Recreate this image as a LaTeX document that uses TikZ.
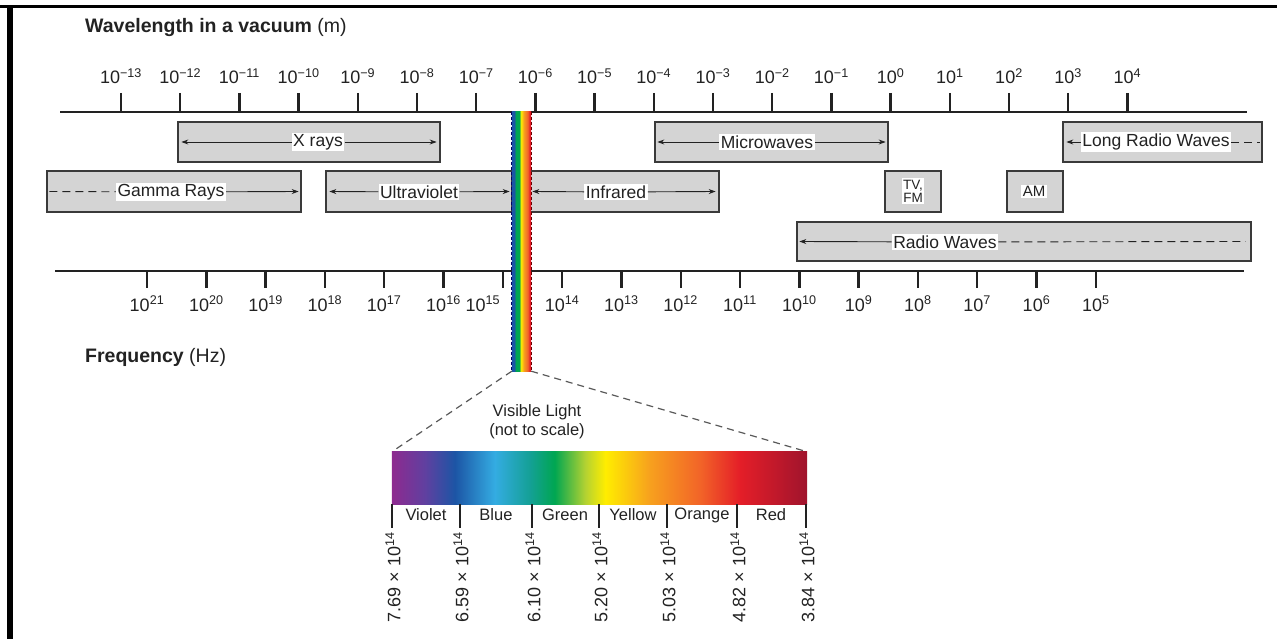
\documentclass[tikz,border=0pt]{standalone}
\usepackage{fontspec}
\setmainfont{Liberation Sans}
\usetikzlibrary{arrows.meta}

% Colores
\definecolor{tinta}{HTML}{222222}
\definecolor{grisbanda}{HTML}{D4D4D4}
\definecolor{borde}{HTML}{3A3A3A}
\definecolor{esp1}{RGB}{142,42,143}
\definecolor{esp2}{RGB}{96,64,160}
\definecolor{esp3}{RGB}{28,85,165}
\definecolor{esp4}{RGB}{52,172,226}
\definecolor{esp5}{RGB}{20,160,150}
\definecolor{esp6}{RGB}{0,166,81}
\definecolor{esp7}{RGB}{180,210,50}
\definecolor{esp8}{RGB}{255,237,0}
\definecolor{esp9}{RGB}{247,160,30}
\definecolor{esp10}{RGB}{242,100,40}
\definecolor{esp11}{RGB}{228,30,40}
\definecolor{esp12}{RGB}{160,20,45}

% Degradado del espectro visible (barra grande y franja)
\pgfdeclarehorizontalshading{espectro}{100bp}{color(0bp)=(esp1); color(25bp)=(esp1);
  color(29bp)=(esp2); color(32.6bp)=(esp3); color(37.4bp)=(esp4); color(41.6bp)=(esp5);
  color(44.6bp)=(esp6); color(48.3bp)=(esp7); color(50.7bp)=(esp8); color(56.1bp)=(esp9);
  color(62.1bp)=(esp10); color(66.9bp)=(esp11); color(75bp)=(esp12); color(100bp)=(esp12)}
\pgfdeclarehorizontalshading{franjacolor}{100bp}{color(0bp)=(esp3); color(25bp)=(esp3);
  color(31bp)=(esp3); color(36bp)=(esp6); color(44bp)=(esp6); color(49bp)=(esp8);
  color(56bp)=(esp9); color(66bp)=(esp10); color(71bp)=(esp11); color(75bp)=(esp11); color(100bp)=(esp11)}

\newcommand{\pot}[1]{10\textsuperscript{#1}}

\tikzset{
  eje/.style={draw=tinta, line width=2.4},
  banda/.style={draw=borde, line width=1.3, fill=grisbanda, inner sep=0},
  etq/.style={fill=white, inner sep=1.5, font=\fontsize{17.5}{19}\selectfont},
  escala/.style={anchor=base, inner sep=0, font=\fontsize{18}{20}\selectfont},
  flecha/.style={draw=tinta, line width=0.9, -{Stealth[length=7,width=5]}},
  discont/.style={draw=tinta, line width=0.9, dash pattern=on 8 off 5},
  zoomlinea/.style={draw=black!65, line width=1.2, dash pattern=on 7 off 5}
}

\begin{document}
\begin{tikzpicture}[x=1pt, y=-1pt, every node/.style={text=tinta}]
        \useasboundingbox (0,0) rectangle (1277,639);

        % Marco negro
        \fill[black] (0,5) rectangle (1277,8.5);
        \fill[black] (7,5) rectangle (13,639);

        % Titulos
        \node[anchor=base west, inner sep=0, font=\fontsize{19.5}{21}\selectfont] (titulo) at (85,33)
            {\textbf{Wavelength in a vacuum} (m)};
        \node[anchor=base west, inner sep=0, font=\fontsize{19.5}{21}\selectfont] (frecuencia) at (85,362)
            {\textbf{Frequency} (Hz)};

        % Eje de longitud de onda
        \draw[eje] (60,112) -- (1247,112);
        \foreach \e [count=\i from 0] in {−13,−12,−11,−10,−9,−8,−7,−6,−5,−4,−3,−2,−1,0,1,2,3,4} {
            \draw[eje] (121+59.2*\i,93) -- (121+59.2*\i,112);
            \node[escala] (lo\i) at (121+59.2*\i,84) {\pot{\e}};
        }

        % Eje de frecuencia
        \draw[eje] (55,271) -- (1244,271);
        \foreach \e [count=\i from 0] in {21,20,...,5} {
            \pgfmathsetmacro{\dx}{ifthenelse(\e==15,-20,0)}
            \draw[eje] (147+59.3*\i,271) -- (147+59.3*\i,288);
            \node[escala] (fr\i) at (147+59.3*\i+\dx,311) {\pot{\e}};
        }

        % Bandas, fila 1
        \node[banda, minimum width=262, minimum height=40] (xrays) at (309,142) {};
        \node[banda, minimum width=233, minimum height=40] (micro) at (771.5,142) {};
        \node[banda, minimum width=199, minimum height=40] (largas) at (1162.5,142) {};
        % Bandas, fila 2
        \node[banda, minimum width=254, minimum height=41] (gamma) at (174,191.5) {};
        \node[banda, minimum width=186, minimum height=41] (uv) at (419,191.5) {};
        \node[banda, minimum width=189, minimum height=41] (ir) at (624.5,191.5) {};
        \node[banda, minimum width=56, minimum height=41] (tvfm) at (913,191.5) {};
        \node[banda, minimum width=56, minimum height=41] (am) at (1035,191.5) {};
        % Bandas, fila 3
        \node[banda, minimum width=454, minimum height=39] (radio) at (1024,241.5) {};

        % Etiquetas y flechas de las bandas
        \node[etq] (xraysl) at (318,142) {X rays};
        \draw[flecha] (xraysl) -- ([xshift=4]xrays.west);
        \draw[flecha] (xraysl) -- ([xshift=-4]xrays.east);

        \node[etq] (microl) at (767,142) {Microwaves};
        \draw[flecha] (microl) -- ([xshift=3]micro.west);
        \draw[flecha] (microl) -- ([xshift=-3]micro.east);

        \node[etq] (largasl) at (1156,142) {Long Radio Waves};
        \draw[flecha] (largasl) -- ([xshift=4]largas.west);
        \draw[discont] (largasl) -- ([xshift=-3]largas.east);

        \node[etq] (gammal) at (171,192) {Gamma Rays};
        \draw[discont] ([xshift=3]gamma.west) -- (gammal);
        \draw[flecha] (gammal) -- ([xshift=-3]gamma.east);

        \node[etq] (uvl) at (419,192) {Ultraviolet};
        \draw[flecha] (uvl) -- ([xshift=4]uv.west);
        \draw[flecha] (uvl) -- ([xshift=-3]uv.east);

        \node[etq] (irl) at (616,192) {Infrared};
        \draw[flecha] (irl) -- ([xshift=3]ir.west);
        \draw[flecha] (irl) -- ([xshift=-4]ir.east);

        \node[etq, font=\fontsize{13.5}{13}\selectfont, align=center] (tvfml) at (913,191) {TV,\\FM};
        \node[etq, font=\fontsize{15}{16}\selectfont] (aml) at (1034,191.5) {AM};

        \node[etq] (radiol) at (945,242) {Radio Waves};
        \draw[flecha] (radiol) -- ([xshift=3]radio.west);
        \draw[discont] (radiol) -- ([xshift=-6]radio.east);

        % Franja visible sobre los ejes
        \node[minimum width=19, minimum height=259, inner sep=0] (franja) at (521.5,241.5) {};
        \shade[shading=franjacolor] (franja.south west) rectangle (franja.north east);
        \draw[draw=blue!40!black, line width=1, dash pattern=on 3 off 2] (franja.north west) -- (franja.south west);
        \draw[draw=red!40!black, line width=1, dash pattern=on 3 off 2] (franja.north east) -- (franja.south east);

        % Barra de luz visible
        \node[minimum width=415, minimum height=52, inner sep=0] (barra) at (599.5,478) {};
        \shade[shading=espectro] (barra.south west) rectangle (barra.north east);
        \draw[zoomlinea, shorten >=4] (franja.south west) -- (barra.north west);
        \draw[zoomlinea, shorten >=3] (franja.south east) -- (barra.north east);
        \node[font=\fontsize{16.5}{19}\selectfont, align=center] (visible) at (537,422)
            {Visible Light\\(not to scale)};

        % Divisiones de colores y frecuencias
        \foreach \x/\f in {392/7.69,460/6.59,532/6.10,599/5.20,667/5.03,737/4.82,806/3.84} {
            \draw[draw=tinta, line width=1.2] (\x,504) -- (\x,528);
            \node[anchor=east, rotate=90, inner sep=0, font=\fontsize{18}{20}\selectfont] (v\x) at (\x+1,532)
                {\f\ × \pot{14}};
        }
        \foreach \x/\c in {426/Violet,496/Blue,565/Green,633/Yellow,702/Orange,771/Red}
            \node[font=\fontsize{16.5}{18}\selectfont] (c\c) at (\x,515) {\c};

\end{tikzpicture}
\end{document}
